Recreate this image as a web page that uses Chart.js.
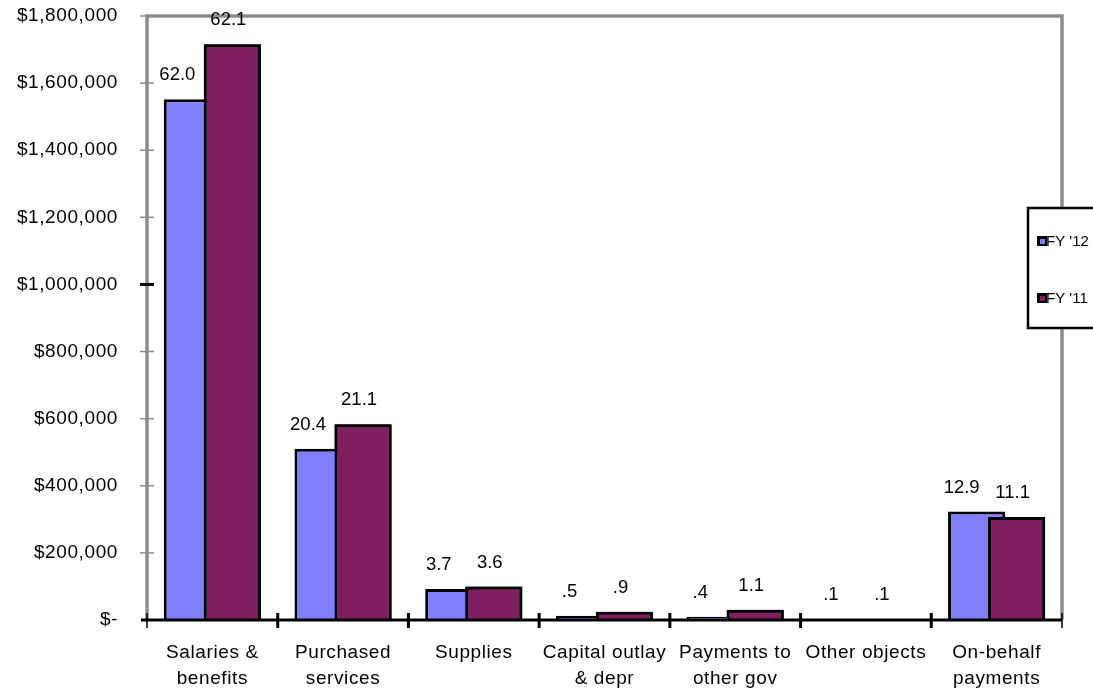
<!DOCTYPE html>
<html>
<head>
<meta charset="utf-8">
<script src="https://cdn.jsdelivr.net/npm/chart.js@4/dist/chart.umd.min.js"></script>
<style>
html,body{margin:0;padding:0;background:#fff;}
#wrap{width:1093px;height:691px;position:relative;}
</style>
</head>
<body>
<div id="wrap"><canvas id="c" width="1093" height="691"></canvas></div>
<script>
const categories = [
  ['Salaries &','benefits'],
  ['Purchased','services'],
  ['Supplies'],
  ['Capital outlay','& depr'],
  ['Payments to','other gov'],
  ['Other objects'],
  ['On-behalf','payments']
];
const seriesNames = ["FY '12", "FY '11"];
const fy12Values = [1552000, 510000, 92600, 12500, 10000, 2500, 323000];
const fy11Values = [1716000, 583000, 99500, 24900, 30400, 2800, 307000];
const fy12Pct = ['62.0','20.4','3.7','.5','.4','.1','12.9'];
const fy11Pct = ['62.1','21.1','3.6','.9','1.1','.1','11.1'];
const yTicks = [0,200000,400000,600000,800000,1000000,1200000,1400000,1600000,1800000];

const FONT = 'Liberation Sans, Arial, sans-serif';
const colors = ['#8080ff', '#7f1f5f'];

const spacingPlugin = {
  id: 'spacing',
  beforeInit(chart) { chart.ctx.letterSpacing = '0.6px'; },
  beforeUpdate(chart) { chart.ctx.letterSpacing = '0.6px'; },
  beforeLayout(chart) { chart.ctx.letterSpacing = '0.6px'; },
  beforeDraw(chart) { chart.ctx.letterSpacing = '0.6px'; }
};

const framePlugin = {
  id: 'frame',
  beforeDatasetsDraw(chart) {
    const {ctx, chartArea: a} = chart;
    ctx.save();
    ctx.strokeStyle = '#8c8c8c';
    ctx.lineWidth = 3.5;
    ctx.beginPath();
    ctx.moveTo(a.left, a.bottom);
    ctx.lineTo(a.left, a.top);
    ctx.lineTo(a.right, a.top);
    ctx.lineTo(a.right, a.bottom);
    ctx.stroke();
    ctx.restore();
  },
  afterDatasetsDraw(chart) {
    const meta = chart.getDatasetMeta(1);
    const ctx = chart.ctx;
    ctx.save();
    meta.data.forEach(el => el.draw(ctx, chart.chartArea));
    ctx.restore();
    const {chartArea: a} = chart;
    const xs = chart.scales.x;
    ctx.save();
    ctx.strokeStyle = '#000';
    ctx.lineWidth = 3;
    ctx.beginPath();
    ctx.moveTo(a.left - 6, a.bottom);
    ctx.lineTo(a.right, a.bottom);
    ctx.stroke();
    const n = categories.length;
    for (let i = 0; i <= n; i++) {
      const x = xs.left + i * (xs.width / n);
      ctx.lineWidth = (i === 0 || i === n) ? 1.5 : 3;
      ctx.beginPath();
      ctx.moveTo(x, a.bottom - 7);
      ctx.lineTo(x, a.bottom + 8);
      ctx.stroke();
    }
    const ys = chart.scales.y;
    yTicks.forEach(v => {
      if (v === 0) return;
      const y = ys.getPixelForValue(v);
      ctx.strokeStyle = v === 1000000 ? '#000' : '#8c8c8c';
      ctx.lineWidth = v === 1000000 ? 3 : 1.5;
      ctx.beginPath();
      ctx.moveTo(a.left - 7, y);
      ctx.lineTo(a.left + 7, y);
      ctx.stroke();
    });
    ctx.letterSpacing = '0px';
    ctx.fillStyle = '#000';
    ctx.font = '18.5px ' + FONT;
    ctx.textAlign = 'center';
    ctx.textBaseline = 'middle';
    const pcts = [fy12Pct, fy11Pct];
    [0,1].forEach(d => {
      chart.getDatasetMeta(d).data.forEach((el, i) => {
        const dx = d === 0 ? -15 : -4;
        ctx.fillText(pcts[d][i], el.x + dx, el.y - 24);
      });
    });
    const lx = 1028, ly = 208, lw = 70, lh = 120;
    ctx.fillStyle = '#fff';
    ctx.fillRect(lx, ly, lw, lh);
    ctx.strokeStyle = '#000';
    ctx.lineWidth = 2.5;
    ctx.strokeRect(lx, ly, lw, lh);
    ctx.font = '15px ' + FONT;
    ctx.textAlign = 'left';
    const rows = [241, 298];
    seriesNames.forEach((name, k) => {
      ctx.fillStyle = '#000';
      ctx.fillRect(lx + 9, rows[k] - 5, 10, 10);
      ctx.fillStyle = colors[k];
      ctx.fillRect(lx + 12, rows[k] - 2, 5, 5);
      ctx.fillStyle = '#000';
      ctx.fillText(name, lx + 18, rows[k] + 1);
    });
    ctx.restore();
  }
};

const canvas = document.getElementById('c');

new Chart(canvas, {
  type: 'bar',
  data: {
    labels: categories,
    datasets: [
      {label: seriesNames[0], data: fy12Values, backgroundColor: colors[0], borderColor: '#000', borderWidth: 3, borderSkipped: 'bottom', categoryPercentage: 0.612, barPercentage: 1.43},
      {label: seriesNames[1], data: fy11Values, backgroundColor: colors[1], borderColor: '#000', borderWidth: 3, borderSkipped: 'bottom', categoryPercentage: 0.612, barPercentage: 1.43}
    ]
  },
  options: {
    responsive: false,
    animation: false,
    devicePixelRatio: 1,
    layout: {padding: {left: 0, top: 16, right: 31, bottom: 0}},
    plugins: {legend: {display: false}, tooltip: {enabled: false}},
    scales: {
      x: {
        grid: {display: false, drawTicks: false},
        border: {display: false},
        ticks: {color: '#000', font: {family: FONT, size: 19, lineHeight: 1.4}, padding: 19, maxRotation: 0, autoSkip: false},
        afterFit(s) { s.height = 71; s.paddingLeft = 0; s.paddingRight = 0; }
      },
      y: {
        min: 0, max: 1800000,
        afterBuildTicks(s) { s.ticks = yTicks.map(v => ({value: v})); },
        grid: {display: false, drawTicks: false},
        border: {display: false},
        ticks: {
          color: '#000', font: {family: FONT, size: 19}, padding: 29,
          callback: v => v === 0 ? '$-' : '$' + v.toLocaleString('en-US')
        },
        afterFit(s) { s.width = 147; s.paddingTop = 0; s.paddingBottom = 0; }
      }
    }
  },
  plugins: [spacingPlugin, framePlugin]
});
</script>
</body>
</html>
